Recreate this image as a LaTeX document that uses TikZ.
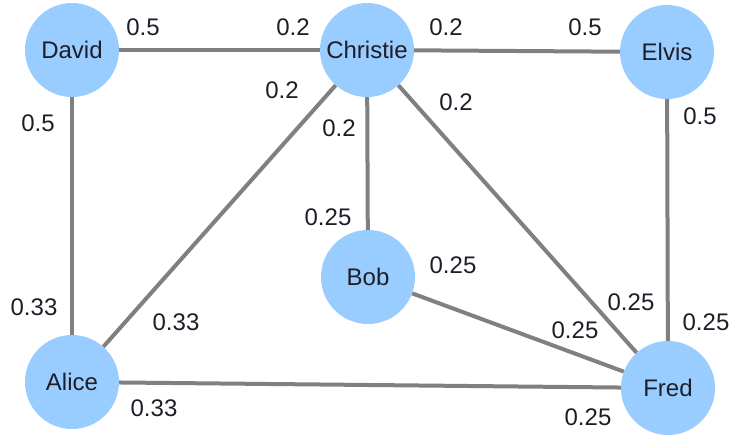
\documentclass[tikz,border=0pt]{standalone}
\usepackage{fontspec}
\setmainfont{Liberation Sans}
\definecolor{nodeblue}{RGB}{153,204,255}
\definecolor{edgegray}{RGB}{128,128,128}
\definecolor{labelink}{RGB}{30,30,40}
\begin{document}
\begin{tikzpicture}[x=1pt, y=-1pt]
        \tikzstyle{person} = [circle, fill=nodeblue, draw=none, minimum size=94pt, inner sep=0pt, font=\fontsize{24}{28}\selectfont, text=labelink]
        \tikzstyle{link} = [edgegray, line width=4pt]
        \tikzstyle{w} = [font=\fontsize{24}{28}\selectfont, text=labelink, inner sep=0pt]

        \useasboundingbox (0,0) rectangle (731,437);

        \node (david) [person] at (72,50) {David};
        \node (christie) [person] at (367,50) {Christie};
        \node (elvis) [person] at (667,52) {Elvis};
        \node (bob) [person] at (368,277) {Bob};
        \node (alice) [person] at (72,382) {Alice};
        \node (fred) [person] at (668,388) {Fred};

        \draw [link] (david) -- (christie);
        \draw [link] (christie) -- (elvis);
        \draw [link] (david) -- (alice);
        \draw [link] (christie) -- (alice);
        \draw [link] (christie) -- (bob);
        \draw [link] (christie) -- (fred);
        \draw [link] (elvis) -- (fred);
        \draw [link] (bob) -- (fred);
        \draw [link] (alice) -- (fred);

        % weights, first the end near the top node
        \node (dc1) [w] at (143,27) {0.5};
        \node (dc2) [w] at (293,27) {0.2};
        \node (ce1) [w] at (446,27) {0.2};
        \node (ce2) [w] at (585,27) {0.5};
        \node (da1) [w] at (38,123) {0.5};
        \node (da2) [w] at (34,307) {0.33};
        \node (ca1) [w] at (282,90) {0.2};
        \node (ca2) [w] at (176,322) {0.33};
        \node (cb1) [w] at (339,128) {0.2};
        \node (cb2) [w] at (328,217) {0.25};
        \node (cf1) [w] at (456,102) {0.2};
        \node (cf2) [w] at (631,302) {0.25};
        \node (ef1) [w] at (700,116) {0.5};
        \node (ef2) [w] at (706,322) {0.25};
        \node (bf1) [w] at (453,265) {0.25};
        \node (bf2) [w] at (575,330) {0.25};
        \node (af1) [w] at (154,408) {0.33};
        \node (af2) [w] at (588,417) {0.25};

    \end{tikzpicture}
\end{document}
